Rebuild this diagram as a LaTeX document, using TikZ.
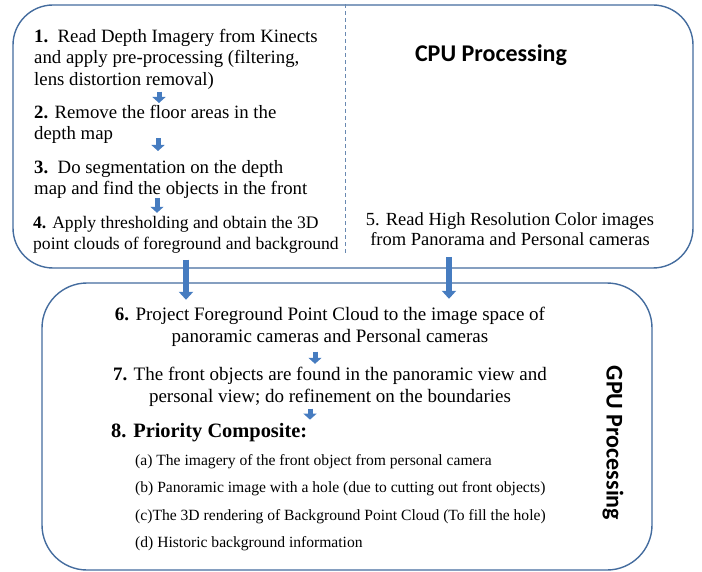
\documentclass[tikz,border=0pt]{standalone}
\usepackage{fontspec}
\setmainfont{Liberation Serif}
\newfontfamily\headfont{Carlito}
\usetikzlibrary{positioning}
\usetikzlibrary{arrows.meta}
\definecolor{boxblue}{RGB}{68,108,158}
\definecolor{arrowblue}{RGB}{70,124,192}
\tikzstyle{panel} = [draw=boxblue, line width=1.4pt, rounded corners=40pt, inner sep=0pt]
\tikzstyle{stage} = [inner sep=0pt, align=left, anchor=north west, font=\fontsize{18.8}{21.5}\selectfont]
\tikzstyle{gpustage} = [inner sep=0pt, align=center, anchor=north, font=\fontsize{19}{22}\selectfont]
\tikzstyle{heading} = [inner sep=0pt, font=\headfont\bfseries\fontsize{24}{28}\selectfont]
\tikzstyle{arrow} = [draw=arrowblue, line width=5pt, -{Triangle[width=13pt,length=6pt]}]
\tikzstyle{bigarrow} = [draw=arrowblue, line width=6pt, -{Triangle[width=14pt,length=8pt]}]

\begin{document}
\begin{tikzpicture}[x=1pt, y=1pt]
    \useasboundingbox (0,0) rectangle (702,-572);

    % Panels (CPU part on top, GPU part below)
    \node[panel, minimum width=680pt, minimum height=263pt] (cpu) at (353,-136.5) {};
    \node[panel, rounded corners=45pt, minimum width=610pt, minimum height=287pt] (gpu) at (347,-426.5) {};
    \coordinate (split) at (345,-256);
    \draw[boxblue!80, dash pattern=on 4pt off 3pt, line width=0.8pt] (cpu.north -| split) -- (split);

    % CPU steps
    \node[stage] (s1) at (34,-29) {\textbf{1.}\ \ Read Depth Imagery from Kinects\\and apply pre-processing (filtering,\\lens distortion removal)};
    \node[stage] (s2) at (34,-105) {\textbf{2.} Remove the floor areas in the\\depth map};
    \node[stage] (s3) at (34,-160) {\textbf{3.}\ \ Do segmentation on the depth\\map and find the objects in the front};
    \node[stage, font=\fontsize{17.6}{21.5}\selectfont] (s4) at (33,-215.8) {\textbf{4.} Apply thresholding and obtain the 3D\\point clouds of foreground and background};
    \node[heading, anchor=base] (cpulabel) at (491,-62) {CPU Processing};
    \node[inner sep=0pt, align=center, anchor=north, font=\fontsize{18.5}{20}\selectfont] (s5) at (510,-212.4) {5. Read High Resolution Color images\\from Panorama and Personal cameras};

    % GPU steps
    \node[gpustage] (s6) at (330,-306.8) {\textbf{6.} Project Foreground Point Cloud to the image space of\\panoramic cameras and Personal cameras};
    \node[gpustage] (s7) at (330,-366.8) {\textbf{7.} The front objects are found in the panoramic view and\\personal view; do refinement on the boundaries};
    \node[inner sep=0pt, anchor=base west, font=\bfseries\fontsize{20.4}{24}\selectfont] (s8) at (111,-437) {8. Priority Composite:};
    \node[inner sep=0pt, align=left, anchor=north west, font=\fontsize{15.6}{27.3}\selectfont] (parts) at (135,-454.3) {(a) The imagery of the front object from personal camera\\(b) Panoramic image with a hole (due to cutting out front objects)\\(c)The 3D rendering of Background Point Cloud (To fill the hole)\\(d) Historic background information};
    \node[heading, rotate=-90] (gpulabel) at (613,-443) {GPU Processing};

    % Arrows
    \coordinate (lane1) at (159,0);
    \coordinate (lane2) at (158,0);
    \coordinate (lane3) at (157,0);
    \coordinate (lane6) at (315,0);
    \coordinate (lane7) at (310,0);
    \coordinate (leftlane) at (186,0);
    \coordinate (rightlane) at (449,0);
    \draw[arrow, shorten <=2pt, shorten >=2pt] (s1.south -| lane1) -- (s2.north -| lane1);
    \draw[arrow, shorten <=-6pt, shorten >=9pt] (s2.south -| lane2) -- (s3.north -| lane2);
    \draw[arrow, shorten <=-1pt, shorten >=3pt] (s3.south -| lane3) -- (s4.north -| lane3);
    \draw[arrow, shorten <=5pt, shorten >=3pt] (s6.south -| lane6) -- (s7.north -| lane6);
    \draw[arrow, shorten <=2pt, shorten >=3pt] (s7.south -| lane7) -- (s8.north -| lane7);
    \draw[bigarrow, shorten <=6pt, shorten >=7pt] (s4.south -| leftlane) -- (s6.north -| leftlane);
    \draw[bigarrow, shorten <=11pt, shorten >=8pt] (s5.south -| rightlane) -- (s6.north -| rightlane);
\end{tikzpicture}
\end{document}
